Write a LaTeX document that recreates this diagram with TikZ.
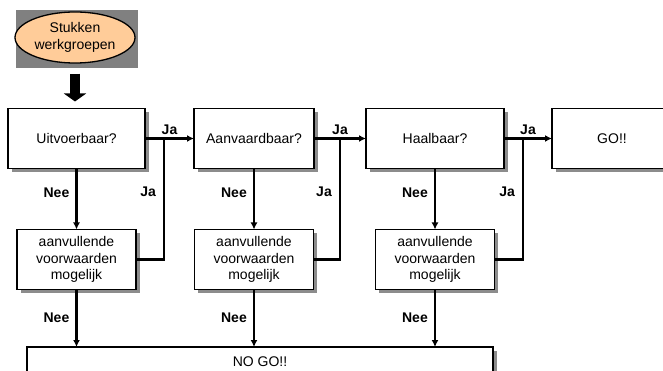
\documentclass[tikz,border=0pt]{standalone}
\usepackage{fontspec}
\setmainfont{Liberation Sans}
\usetikzlibrary{positioning,arrows.meta,shapes.geometric,shadows}
\definecolor{peach}{HTML}{FFCC99}
\definecolor{padgray}{HTML}{808080}
\definecolor{shade}{HTML}{8C8C8C}

\begin{document}
\begin{tikzpicture}[x=1pt,y=1pt,>={Latex[length=7pt,width=7pt]},
  font=\fontsize{14pt}{16.5pt}\selectfont,
  box/.style={draw,line width=1.8pt,fill=white,align=center,outer sep=0pt,inner sep=2pt,minimum height=60pt,
    drop shadow={shadow xshift=3.5pt,shadow yshift=-3.5pt,fill=shade,opacity=1}},
  ask/.style={box,minimum width=#1},
  extra/.style={box,minimum width=119pt},
  flow/.style={->,line width=2.4pt},
  link/.style={line width=2.4pt},
  lbl/.style={font=\fontsize{14pt}{16.5pt}\selectfont\bfseries,inner sep=1pt}]
\useasboundingbox (0,0) rectangle (663,-371);
% start
\node[fill=padgray,minimum width=122pt,minimum height=58pt,inner sep=0pt] (pad) at (77,-39) {};
\node[ellipse,draw,line width=1.3pt,fill=peach,minimum width=120pt,minimum height=51pt,inner sep=0pt,align=center]
  (src) at ([xshift=-2pt,yshift=1.5pt]pad.center) {Stukken\\werkgroepen};
% questions
\node[ask=137pt] (uit) at (76.5,-138.5) {Uitvoerbaar?};
\node[ask=120pt,right=49pt of uit] (aan) {Aanvaardbaar?};
\node[ask=138pt,right=52pt of aan] (haal) {Haalbaar?};
\node[ask=120pt,right=48pt of haal] (go) {GO!!};
% extra conditions
\node[extra,below=61pt of uit] (ex1) {aanvullende\\voorwaarden\\mogelijk};
\node[extra,below=61pt of aan] (ex2) {aanvullende\\voorwaarden\\mogelijk};
\node[extra,below=61pt of haal] (ex3) {aanvullende\\voorwaarden\\mogelijk};
\node[box,minimum width=466pt,minimum height=30pt] (nogo) at (260,-362) {NO GO!!};
% block arrow
\draw[line width=10pt,-{Triangle[width=22pt,length=8pt]},shorten <=10pt,shorten >=7pt]
  (src.south) -- (src.south |- uit.north);
% ja
\draw[flow] (uit) -- coordinate[pos=.39] (j1) node[lbl,above=2pt,midway] {Ja} (aan);
\draw[flow] (aan) -- coordinate[pos=.5] (j2) node[lbl,above=2pt,midway] {Ja} (haal);
\draw[flow] (haal) -- coordinate[pos=.4] (j3) node[lbl,above=2pt,midway] {Ja} (go);
\draw[link] (ex1) -| node[lbl,left=6pt,pos=.78] {Ja} (j1);
\draw[link] (ex2) -| node[lbl,left=6pt,pos=.78] {Ja} (j2);
\draw[link] (ex3) -| node[lbl,left=6pt,pos=.78] {Ja} (j3);
% nee
\draw[flow] (uit) -- node[lbl,left=5pt,pos=.4] {Nee} (ex1);
\draw[flow] (aan) -- node[lbl,left=5pt,pos=.4] {Nee} (ex2);
\draw[flow] (haal) -- node[lbl,left=5pt,pos=.4] {Nee} (ex3);
\draw[flow] (ex1) -- node[lbl,left=5pt] {Nee} (ex1 |- nogo.north);
\draw[flow] (ex2) -- node[lbl,left=5pt] {Nee} (ex2 |- nogo.north);
\draw[flow] (ex3) -- node[lbl,left=5pt] {Nee} (ex3 |- nogo.north);
\end{tikzpicture}
\end{document}
